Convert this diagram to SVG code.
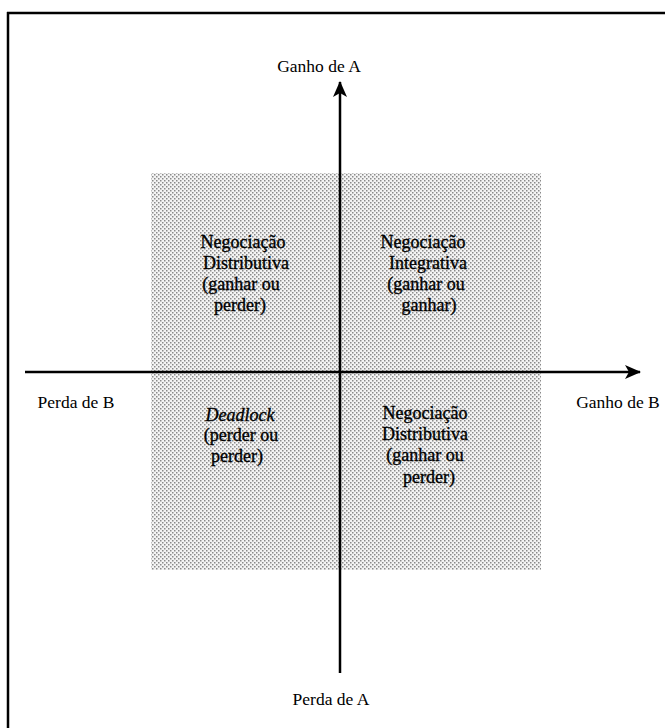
<svg xmlns="http://www.w3.org/2000/svg" width="665" height="728" viewBox="0 0 665 728">
  <style>
    text { font-family: "Liberation Serif", "DejaVu Serif", serif; fill: #000; }
    .ax { font-size: 17.5px; }
    .q { font-size: 18px; stroke: #000; stroke-width: 0.35; }
    .axis { stroke: #000; stroke-width: 2.5; fill: none; }
    .frame { stroke: #000; stroke-width: 2.5; fill: none; }
  </style>
  <defs>
    <pattern id="dots" width="4" height="4" patternUnits="userSpaceOnUse">
      <rect width="4" height="4" fill="#f4f4f4"/>
      <rect x="0" y="0" width="1.5" height="1.5" fill="#8a8a8a"/>
      <rect x="2" y="2" width="1.5" height="1.5" fill="#8a8a8a"/>
    </pattern>
    <marker id="arr" viewBox="0 0 16 14" refX="15" refY="7" markerWidth="16" markerHeight="14" markerUnits="userSpaceOnUse" orient="auto">
      <path d="M0,0 L16,7 L0,14 L4,7 Z" fill="#000"/>
    </marker>
  </defs>

  <g id="frame">
    <line class="frame" x1="7" y1="13" x2="665" y2="13"/>
    <line class="frame" x1="8" y1="12" x2="8" y2="728"/>
  </g>

  <g id="field">
    <rect x="151" y="173" width="390" height="397" fill="url(#dots)"/>
  </g>

  <g id="connectors">
    <line class="axis" x1="340" y1="673" x2="340" y2="82" marker-end="url(#arr)"/>
    <line class="axis" x1="25" y1="372" x2="640" y2="372" marker-end="url(#arr)"/>
  </g>

  <g id="label-ganho-a"><text class="ax" x="319" y="72" text-anchor="middle">Ganho de A</text></g>
  <g id="label-perda-a"><text class="ax" x="331" y="705" text-anchor="middle">Perda de A</text></g>
  <g id="label-perda-b"><text class="ax" x="76" y="408" text-anchor="middle">Perda de B</text></g>
  <g id="label-ganho-b"><text class="ax" x="618" y="408" text-anchor="middle">Ganho de B</text></g>

  <g id="q-top-left">
    <text class="q" x="243" y="248" text-anchor="middle">Negociação</text>
    <text class="q" x="246" y="269" text-anchor="middle">Distributiva</text>
    <text class="q" x="241" y="290" text-anchor="middle">(ganhar ou</text>
    <text class="q" x="240" y="311" text-anchor="middle">perder)</text>
  </g>
  <g id="q-top-right">
    <text class="q" x="423" y="248" text-anchor="middle">Negociação</text>
    <text class="q" x="428" y="269" text-anchor="middle">Integrativa</text>
    <text class="q" x="426" y="290" text-anchor="middle">(ganhar ou</text>
    <text class="q" x="429" y="311" text-anchor="middle">ganhar)</text>
  </g>
  <g id="q-bottom-left">
    <text class="q" x="240" y="421" text-anchor="middle" font-style="italic" font-size="17">Deadlock</text>
    <text class="q" x="241" y="441" text-anchor="middle">(perder ou</text>
    <text class="q" x="237" y="462" text-anchor="middle">perder)</text>
  </g>
  <g id="q-bottom-right">
    <text class="q" x="425" y="419" text-anchor="middle">Negociação</text>
    <text class="q" x="425" y="440" text-anchor="middle">Distributiva</text>
    <text class="q" x="425" y="461" text-anchor="middle">(ganhar ou</text>
    <text class="q" x="429" y="483" text-anchor="middle">perder)</text>
  </g>
</svg>
